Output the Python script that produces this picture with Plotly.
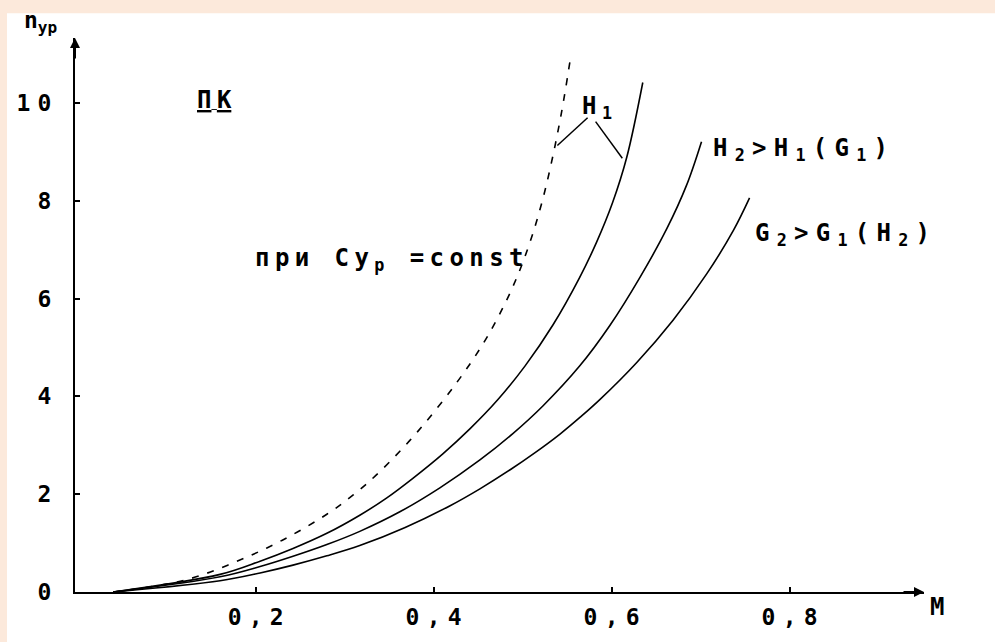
import plotly.graph_objects as go

# ---- data ----
cy_const_M = [0.04, 0.12, 0.178, 0.23, 0.28, 0.31, 0.34, 0.382, 0.425, 0.455, 0.478, 0.495,
              0.51, 0.523, 0.534, 0.544, 0.553]
cy_const_n = [0.0, 0.24, 0.62, 1.06, 1.59, 1.99, 2.47, 3.28, 4.26, 5.06, 5.82, 6.50,
              7.25, 8.06, 8.92, 9.84, 10.83]

h1_M = [0.04, 0.16, 0.205, 0.242, 0.28, 0.317, 0.347, 0.377, 0.41, 0.441, 0.472, 0.503,
        0.534, 0.564, 0.583, 0.601, 0.617, 0.635]
h1_n = [0.0, 0.36, 0.63, 0.89, 1.20, 1.57, 1.92, 2.33, 2.82, 3.34, 3.93, 4.63,
        5.46, 6.43, 7.15, 7.96, 8.89, 10.42]

h2_M = [0.04, 0.16, 0.205, 0.242, 0.28, 0.317, 0.362, 0.407, 0.452, 0.489, 0.523, 0.564,
        0.598, 0.632, 0.662, 0.684, 0.701]
h2_n = [0.0, 0.31, 0.52, 0.73, 0.97, 1.24, 1.64, 2.13, 2.70, 3.24, 3.81, 4.62,
        5.45, 6.44, 7.43, 8.31, 9.21]

g2_M = [0.04, 0.16, 0.205, 0.242, 0.28, 0.317, 0.368, 0.418, 0.452, 0.486, 0.514, 0.542,
        0.565, 0.587, 0.628, 0.669, 0.707, 0.737, 0.755]
g2_n = [0.0, 0.23, 0.39, 0.55, 0.74, 0.95, 1.32, 1.76, 2.11, 2.50, 2.85, 3.23,
        3.58, 3.94, 4.69, 5.56, 6.51, 7.40, 8.06]

x_tick_vals = [0.2, 0.4, 0.6, 0.8]
x_tick_labels = [["0", ",", "2"], ["0", ",", "4"], ["0", ",", "6"], ["0", ",", "8"]]
y_tick_vals = [0, 2, 4, 6, 8, 10]
y_tick_labels = [["0"], ["2"], ["4"], ["6"], ["8"], ["1", "0"]]

PEACH = "#FCE9DB"
FONT = "DejaVu Sans Mono"


def spaced(tokens, gap=9):
    sep = '<span style="font-size:%dpx"> </span>' % gap
    return sep.join(tokens)


fig = go.Figure()
fig.add_trace(go.Scatter(x=cy_const_M, y=cy_const_n, mode="lines",
                         line=dict(color="black", width=1.6, dash="7px,9px", shape="spline",
                                   smoothing=1.0),
                         showlegend=False))
for xs, ys in [(h1_M, h1_n), (h2_M, h2_n), (g2_M, g2_n)]:
    fig.add_trace(go.Scatter(x=xs, y=ys, mode="lines",
                             line=dict(color="black", width=1.6, shape="spline", smoothing=1.0),
                             showlegend=False))

XR = [-0.003, 0.951]
YR = [0, 11.33]

tick_font = dict(family=FONT, size=23, color="black", weight="bold")
fig.update_xaxes(range=XR, showgrid=False, zeroline=False, showline=True,
                 linecolor="black", linewidth=2, ticks="inside", ticklen=5,
                 tickwidth=1.5, tickcolor="black", tickvals=x_tick_vals,
                 ticktext=[spaced(t, 12) for t in x_tick_labels], ticklabelstandoff=3,
                 tickfont=tick_font)
fig.update_yaxes(range=YR, showgrid=False, zeroline=False, showline=True,
                 linecolor="black", linewidth=2, ticks="inside", ticklen=5,
                 tickwidth=1.5, tickcolor="black", tickvals=y_tick_vals,
                 ticktext=[spaced(t, 12) for t in y_tick_labels], ticklabelstandoff=17,
                 tickfont=tick_font)

tfont = dict(family=FONT, size=24, color="black", weight="bold")
ann = [
    # axis arrows
    dict(x=XR[0], y=YR[1], xref="x", yref="y", ax=0, ay=22, text="", showarrow=True,
         arrowhead=2, arrowsize=1, arrowwidth=2, arrowcolor="black"),
    dict(x=XR[1], y=0, xref="x", yref="y", ax=-22, ay=0, text="", showarrow=True,
         arrowhead=2, arrowsize=1, arrowwidth=2, arrowcolor="black"),
    # axis titles
    dict(x=-0.0624, y=1.0285, xref="paper", yref="paper", xanchor="left", yanchor="middle",
         text="n<sub>ур</sub>", showarrow=False,
         font=dict(family=FONT, size=23, color="black", weight="bold")),
    dict(x=1.0153, y=-0.027, xref="paper", yref="paper", xanchor="center", yanchor="middle",
         text="M", showarrow=False, font=tfont),
    # labels
    dict(x=0.1315, y=10.06, xref="x", yref="y", xanchor="left", yanchor="middle",
         text="<u>" + spaced(["П", "К"]) + "</u>", showarrow=False, font=tfont),
    dict(x=0.197, y=6.79, xref="x", yref="y", xanchor="left", yanchor="middle",
         text=spaced(["п", "р", "и", " ", "C", "y", "<sub>р</sub>", " ", "=", "c", "o", "n", "s", "t"]),
         showarrow=False, font=tfont),
    dict(x=0.583, y=9.90, xref="x", yref="y", xanchor="center", yanchor="middle",
         text=spaced(["H", "<sub>1</sub>"]), showarrow=False, font=tfont),
    dict(x=0.712, y=9.05, xref="x", yref="y", xanchor="left", yanchor="middle",
         text=spaced(["H", "<sub>2</sub>", ">", "H", "<sub>1</sub>", "(", "G", "<sub>1</sub>", ")"], 12),
         showarrow=False, font=tfont),
    dict(x=0.759, y=7.32, xref="x", yref="y", xanchor="left", yanchor="middle",
         text=spaced(["G", "<sub>2</sub>", ">", "G", "<sub>1</sub>", "(", "H", "<sub>2</sub>", ")"], 12),
         showarrow=False, font=tfont),
]

shapes = [
    # peach page margins (left and top)
    dict(type="rect", xref="paper", yref="paper", x0=-0.2, x1=-0.0801, y0=-0.2, y1=1.2,
         fillcolor=PEACH, line=dict(width=0), layer="below"),
    dict(type="rect", xref="paper", yref="paper", x0=-0.2, x1=1.2, y0=1.0445, y1=1.2,
         fillcolor=PEACH, line=dict(width=0), layer="below"),
    # leader lines of the H1 label
    dict(type="line", xref="x", yref="y", x0=0.573, y0=9.70, x1=0.539, y1=9.13,
         line=dict(color="black", width=1.5)),
    dict(type="line", xref="x", yref="y", x0=0.582, y0=9.62, x1=0.612, y1=8.87,
         line=dict(color="black", width=1.5)),
]

fig.update_layout(width=995, height=642, margin=dict(l=75, r=71, t=38, b=42),
                  paper_bgcolor="white", plot_bgcolor="white",
                  annotations=ann, shapes=shapes, showlegend=False)

fig.write_html("out.html")
